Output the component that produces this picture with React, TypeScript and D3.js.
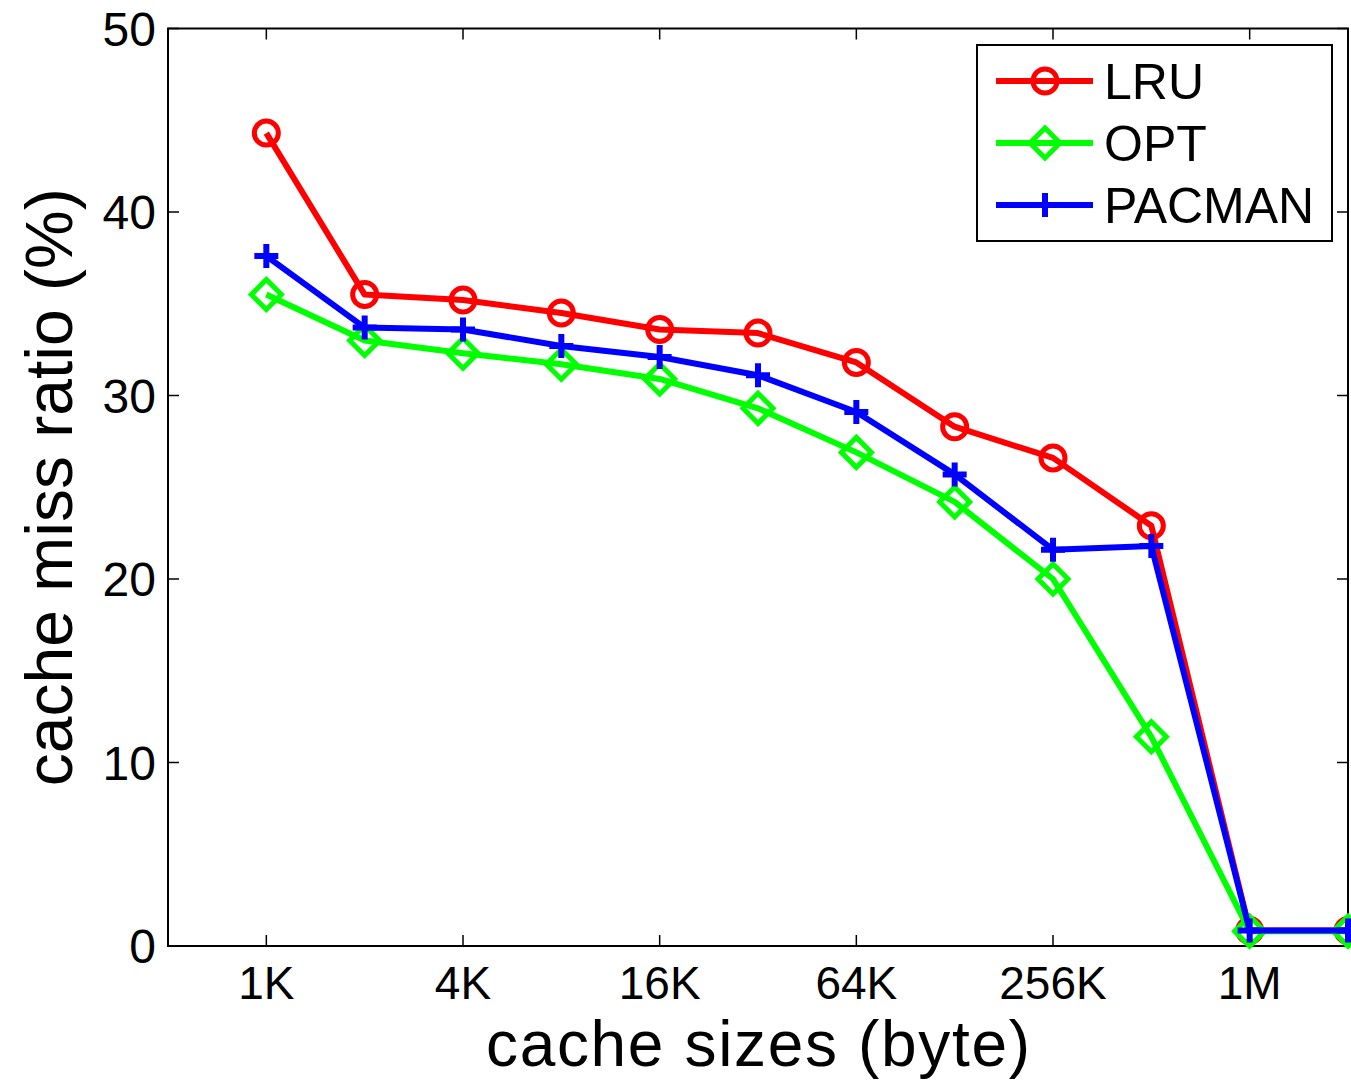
import React, { useRef, useEffect } from "react";
import * as d3 from "d3";

// cache sizes, one point per doubling
const sizes = ["1K", "2K", "4K", "8K", "16K", "32K", "64K", "128K", "256K", "512K", "1M", "2M"];
const xTickLabels = ["1K", "4K", "16K", "64K", "256K", "1M"];
const yTicks = [0, 10, 20, 30, 40, 50];

const lru = [44.3, 35.5, 35.2, 34.5, 33.6, 33.4, 31.8, 28.3, 26.6, 22.9, 0.85, 0.85];
const opt = [35.5, 33.0, 32.3, 31.7, 30.9, 29.3, 26.9, 24.2, 20.0, 11.4, 0.8, 0.8];
const pacman = [37.6, 33.7, 33.6, 32.7, 32.1, 31.1, 29.1, 25.7, 21.6, 21.8, 0.85, 0.85];

const seriesNames = ["LRU", "OPT", "PACMAN"];
const seriesColors = ["#ff0000", "#00ff00", "#0000ff"];
const seriesMarkers = ["circle", "diamond", "plus"];

const App = () => {
  const ref = useRef<HTMLDivElement>(null);

  useEffect(() => {
    const width = 1351;
    const height = 1081;
    const left = 168, right = 1348, top = 28.5, bottom = 946;
    const font = "'Liberation Sans', Arial, Helvetica, sans-serif";

    const x = d3.scaleLinear().domain([-1, sizes.length - 1]).range([left, right]);
    const y = d3.scaleLinear().domain([0, 50]).range([bottom, top]);

    const svg = d3.create("svg")
      .attr("width", width)
      .attr("height", height)
      .attr("viewBox", [0, 0, width, height])
      .attr("style", "display:block; background:#fff;");

    // frame
    svg.append("rect")
      .attr("x", left).attr("y", top)
      .attr("width", right - left).attr("height", bottom - top)
      .attr("fill", "none").attr("stroke", "#000").attr("stroke-width", 2);

    const tickLen = 11;
    const xt = svg.append("g").attr("stroke", "#000").attr("stroke-width", 1.5);
    xTickLabels.forEach(lbl => {
      const px = x(sizes.indexOf(lbl));
      xt.append("line").attr("x1", px).attr("x2", px).attr("y1", bottom).attr("y2", bottom - tickLen);
      xt.append("line").attr("x1", px).attr("x2", px).attr("y1", top).attr("y2", top + tickLen);
      svg.append("text")
        .attr("x", px).attr("y", 999)
        .attr("text-anchor", "middle")
        .attr("font-family", font).attr("font-size", 46)
        .text(lbl);
    });

    yTicks.forEach(v => {
      const py = y(v);
      xt.append("line").attr("x1", left).attr("x2", left + tickLen).attr("y1", py).attr("y2", py);
      xt.append("line").attr("x1", right).attr("x2", right - tickLen).attr("y1", py).attr("y2", py);
      svg.append("text")
        .attr("x", 156).attr("y", py + 17)
        .attr("text-anchor", "end")
        .attr("font-family", font).attr("font-size", 48)
        .text(v);
    });

    svg.append("text")
      .attr("x", (left + right) / 2).attr("y", 1066)
      .attr("text-anchor", "middle")
      .attr("font-family", font).attr("font-size", 64)
      .attr("textLength", 544)
      .text("cache sizes (byte)");

    svg.append("text")
      .attr("transform", `translate(72,${(top + bottom) / 2}) rotate(-90)`)
      .attr("text-anchor", "middle")
      .attr("font-family", font).attr("font-size", 66)
      .text("cache miss ratio (%)");

    const drawMarker = (g: any, kind: string, cx: number, cy: number, color: string) => {
      if (kind === "circle") {
        g.append("circle").attr("cx", cx).attr("cy", cy).attr("r", 12)
          .attr("fill", "none").attr("stroke", color).attr("stroke-width", 5);
      } else if (kind === "diamond") {
        const s = 15;
        g.append("path")
          .attr("d", `M${cx},${cy - s}L${cx + s},${cy}L${cx},${cy + s}L${cx - s},${cy}Z`)
          .attr("fill", "none").attr("stroke", color).attr("stroke-width", 5);
      } else {
        const s = 12;
        g.append("path")
          .attr("d", `M${cx - s},${cy}H${cx + s}M${cx},${cy - s}V${cy + s}`)
          .attr("fill", "none").attr("stroke", color).attr("stroke-width", 6);
      }
    };

    const line = d3.line<number>().x((_, i) => x(i)).y(d => y(d));
    [lru, opt, pacman].forEach((vals, k) => {
      const g = svg.append("g");
      g.append("path")
        .attr("d", line(vals))
        .attr("fill", "none")
        .attr("stroke", seriesColors[k])
        .attr("stroke-width", 6)
        .attr("stroke-linejoin", "round");
      vals.forEach((v, i) => drawMarker(g, seriesMarkers[k], x(i), y(v), seriesColors[k]));
    });

    // legend
    const lg = svg.append("g");
    lg.append("rect")
      .attr("x", 977).attr("y", 45).attr("width", 355).attr("height", 196)
      .attr("fill", "#fff").attr("stroke", "#000").attr("stroke-width", 2);
    seriesNames.forEach((name, k) => {
      const ly = 81 + k * 62;
      lg.append("line")
        .attr("x1", 996).attr("x2", 1093).attr("y1", ly).attr("y2", ly)
        .attr("stroke", seriesColors[k]).attr("stroke-width", 6);
      drawMarker(lg, seriesMarkers[k], 1045, ly, seriesColors[k]);
      lg.append("text")
        .attr("x", 1104).attr("y", ly + 18)
        .attr("font-family", font).attr("font-size", 50)
        .text(name);
    });

    const container = ref.current!;
    container.innerHTML = "";
    container.appendChild(svg.node()!);
  }, []);

  return <div ref={ref} style={{ position: "absolute", left: 0, top: 0 }} />;
};

export default App;
